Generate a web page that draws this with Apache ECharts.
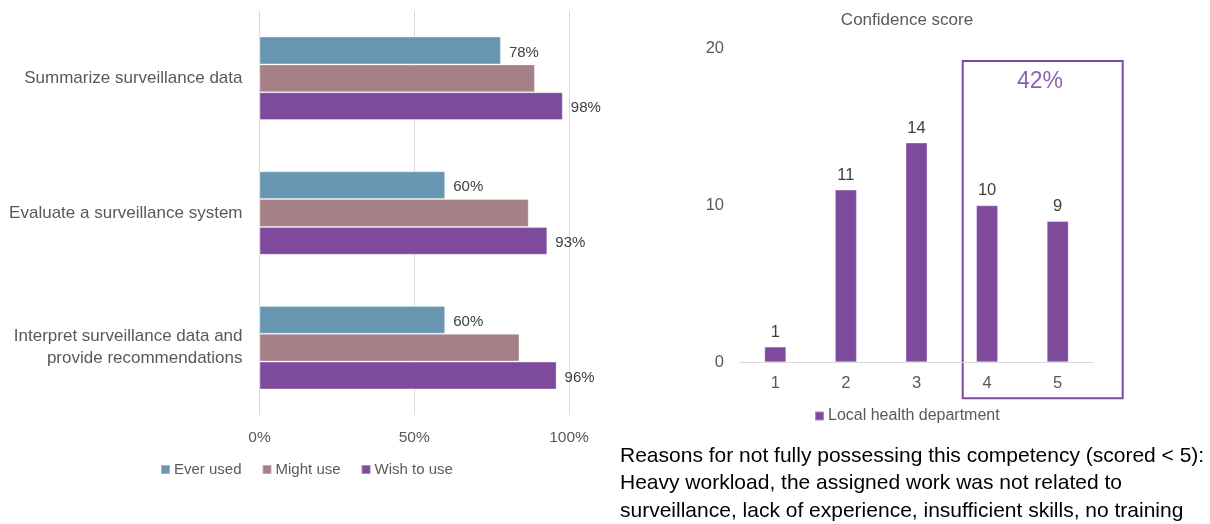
<!DOCTYPE html>
<html>
<head>
<meta charset="utf-8">
<script src="https://cdn.jsdelivr.net/npm/echarts@6/dist/echarts.min.js"></script>
<style>
html,body{margin:0;padding:0;background:#fff;}
#c{width:1210px;height:524px;}
</style>
</head>
<body>
<div id="c"></div>
<script>
// Left chart data
const competencies = ['Summarize surveillance data', 'Evaluate a surveillance system', 'Interpret surveillance data and\nprovide recommendations'];
const everUsed = [78, 60, 60];
const mightUse = [89, 87, 84];
const wishToUse = [98, 93, 96];
const pctTicks = [0, 50, 100];

// Right chart data
const scores = ['1', '2', '3', '4', '5'];
const localHealth = [1, 11, 14, 10, 9];
const scoreTicks = [0, 10, 20];
const highlightText = '42%';
const reasonsText = 'Reasons for not fully possessing this competency (scored < 5):\nHeavy workload, the assigned work was not related to\nsurveillance, lack of experience, insufficient skills, no training';

const FONT = 'Liberation Sans';
const GREY = '#595959';
const C_EVER = '#6896b0', C_MIGHT = '#a58187', C_WISH = '#7e4a9c';

const chart = echarts.init(document.getElementById('c'));
const labelStyle = {show: true, position: 'right', distance: 8, offset: [0, 2], color: '#404040', fontSize: 15, fontFamily: FONT, formatter: p => p.value + '%'};

chart.setOption({
  animation: false,
  textStyle: {fontFamily: FONT},
  title: [{
    text: 'Confidence score', left: 902, top: 7, textAlign: 'center',
    textStyle: {fontSize: 17, fontWeight: 'normal', color: GREY, fontFamily: FONT}
  }],
  legend: [{
    data: ['Ever used', 'Might use', 'Wish to use'],
    left: 155, top: 457, itemWidth: 9, itemHeight: 9, itemGap: 20,
    icon: 'rect',
    textStyle: {fontSize: 15, color: GREY, fontFamily: FONT, padding: [0, 0, 0, -1]}
  }, {
    data: ['Local health department'],
    left: 809, top: 403, itemWidth: 9, itemHeight: 9,
    icon: 'rect',
    textStyle: {fontSize: 16, color: GREY, fontFamily: FONT, padding: [0, 0, 0, -1]}
  }],
  grid: [
    {left: 259.5, top: 11, width: 309.5, height: 404},
    {left: 740, top: 48.3, width: 353, height: 314}
  ],
  xAxis: [{
    gridIndex: 0, type: 'value', min: pctTicks[0], max: pctTicks[pctTicks.length - 1], interval: pctTicks[1] - pctTicks[0],
    axisLine: {show: false}, axisTick: {show: false},
    splitLine: {lineStyle: {color: '#d9d9d9', width: 1}},
    axisLabel: {formatter: '{value}%', color: GREY, fontSize: 15.5, margin: 15, fontFamily: FONT}
  }, {
    gridIndex: 1, type: 'category', data: scores,
    axisLine: {lineStyle: {color: '#d9d9d9'}}, axisTick: {show: false},
    axisLabel: {color: GREY, fontSize: 16.5, margin: 13, fontFamily: FONT}
  }],
  yAxis: [{
    gridIndex: 0, type: 'category', data: competencies, inverse: true,
    axisLine: {show: false}, axisTick: {show: false},
    axisLabel: {color: GREY, fontSize: 17, margin: 17, lineHeight: 22, fontFamily: FONT, align: 'right'}
  }, {
    gridIndex: 1, type: 'value', min: scoreTicks[0], max: scoreTicks[scoreTicks.length - 1], interval: scoreTicks[1] - scoreTicks[0],
    axisLine: {show: false}, axisTick: {show: false}, splitLine: {show: false},
    axisLabel: {color: GREY, fontSize: 16.5, margin: 16, fontFamily: FONT}
  }],
  series: [{
    name: 'Ever used', type: 'bar', xAxisIndex: 0, yAxisIndex: 0, data: everUsed,
    barGap: '0%', barCategoryGap: '38%',
    itemStyle: {color: C_EVER, borderColor: 'rgba(255,255,255,0.35)', borderWidth: 1},
    label: labelStyle
  }, {
    name: 'Might use', type: 'bar', xAxisIndex: 0, yAxisIndex: 0, data: mightUse,
    barGap: '0%', barCategoryGap: '38%',
    itemStyle: {color: C_MIGHT, borderColor: 'rgba(255,255,255,0.35)', borderWidth: 1}
  }, {
    name: 'Wish to use', type: 'bar', xAxisIndex: 0, yAxisIndex: 0, data: wishToUse,
    barGap: '0%', barCategoryGap: '38%',
    itemStyle: {color: C_WISH, borderColor: 'rgba(255,255,255,0.35)', borderWidth: 1},
    label: labelStyle
  }, {
    name: 'Local health department', type: 'bar', xAxisIndex: 1, yAxisIndex: 1, data: localHealth,
    barWidth: 22,
    itemStyle: {color: C_WISH, borderColor: 'rgba(255,255,255,0.35)', borderWidth: 1},
    label: {show: true, position: 'top', distance: 6, color: '#404040', fontSize: 16.5, fontFamily: FONT}
  }],
  graphic: [{
    type: 'rect', shape: {x: 962.7, y: 61, width: 160, height: 337.3},
    style: {fill: 'none', stroke: C_WISH, lineWidth: 2}
  }, {
    type: 'text', x: 1040, y: 82,
    style: {text: highlightText, fill: '#8e62b4', fontSize: 23, fontFamily: FONT, align: 'center', verticalAlign: 'middle'}
  }, {
    type: 'text', x: 620, y: 442,
    style: {text: reasonsText, fill: '#000', fontSize: 21, lineHeight: 27.5, fontFamily: FONT, align: 'left', verticalAlign: 'top'}
  }]
});
</script>
</body>
</html>
